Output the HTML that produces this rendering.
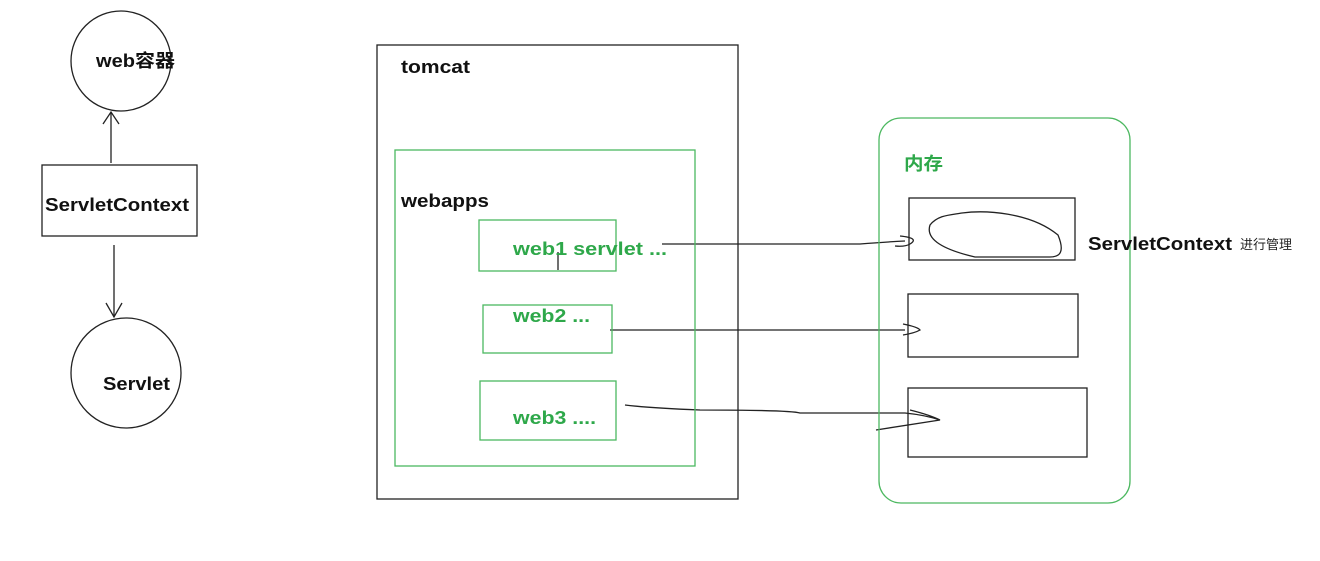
<!DOCTYPE html>
<html><head><meta charset="utf-8"><style>
body{margin:0;background:#fff}
svg text{font-family:"Liberation Sans","Noto Sans CJK SC",sans-serif;font-weight:bold}
</style></head><body>
<svg width="1320" height="556" viewBox="0 0 1320 556" xmlns="http://www.w3.org/2000/svg">
<g fill="none" stroke="#222" stroke-width="1.3">
<circle cx="121" cy="61" r="50"/>
<circle cx="126" cy="373" r="55"/>
<rect x="42" y="165" width="155" height="71"/>
<line x1="111" y1="163" x2="111" y2="112"/>
<path d="M103 124 L111 112 L119 124"/>
<line x1="114" y1="245" x2="114" y2="317"/>
<path d="M106 303 L114 317 L122 303"/>
<rect x="377" y="45" width="361" height="454"/>
<rect x="909" y="198" width="166" height="62"/>
<rect x="908" y="294" width="170" height="63"/>
<rect x="908" y="388" width="179" height="69"/>
<path d="M962 213 C985 210 1030 212 1058 235 C1065 252 1060 257 1050 257 L975 257 C945 250 925 240 930 225 C938 215 950 215 962 213 Z"/>
<path d="M662 244 L860 244 Q885 242 905 241 M900 236 Q920 238 910 244 Q905 247 895 246"/>
<path d="M610 330 L905 330 M903 324 Q918 327 920 330 Q915 333 903 335"/>
<path d="M625 405 Q650 408 700 410 Q790 410 800 413 L905 413 Q925 415 940 420 L876 430 M910 410 Q930 415 940 420"/>
<line x1="558" y1="252" x2="558" y2="270"/>
</g>
<g fill="none" stroke="#4cb860" stroke-width="1.3">
<rect x="395" y="150" width="300" height="316"/>
<rect x="479" y="220" width="137" height="51"/>
<rect x="483" y="305" width="129" height="48"/>
<rect x="480" y="381" width="136" height="59"/>
<rect x="879" y="118" width="251" height="385" rx="22"/>
</g>
<g font-size="18" fill="#111" lengthAdjust="spacingAndGlyphs">
<text x="96" y="67" textLength="79" lengthAdjust="spacingAndGlyphs">web容器</text>
<text x="45" y="211" textLength="144" lengthAdjust="spacingAndGlyphs">ServletContext</text>
<text x="103" y="390" textLength="67" lengthAdjust="spacingAndGlyphs">Servlet</text>
<text x="401" y="73" textLength="69" lengthAdjust="spacingAndGlyphs">tomcat</text>
<text x="401" y="207" textLength="88" lengthAdjust="spacingAndGlyphs">webapps</text>
<text x="1088" y="250" textLength="144" lengthAdjust="spacingAndGlyphs">ServletContext</text>
</g>
<text x="1240" y="249" font-size="13" fill="#222" style="font-weight:normal">进行管理</text>
<g font-size="18" fill="#2ea84a">
<text x="513" y="255" textLength="154" lengthAdjust="spacingAndGlyphs">web1  servlet ...</text>
<text x="513" y="322" textLength="77" lengthAdjust="spacingAndGlyphs">web2 ...</text>
<text x="513" y="424" textLength="83" lengthAdjust="spacingAndGlyphs">web3 ....</text>
<text x="904" y="170" textLength="39" lengthAdjust="spacingAndGlyphs">内存</text>
</g>
</svg>
</body></html>
